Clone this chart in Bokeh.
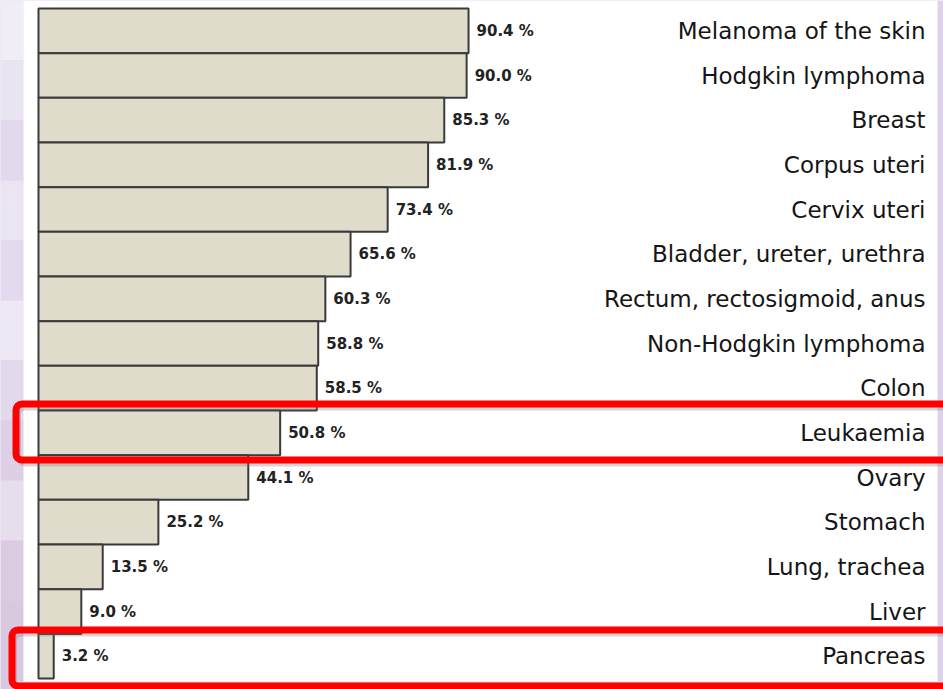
from bokeh.plotting import figure
from bokeh.models import ColumnDataSource, Range1d, BoxAnnotation
from bokeh.core.properties import value
from bokeh.embed import file_html
from bokeh.resources import INLINE

# ---- data ----
categories = ["Melanoma of the skin", "Hodgkin lymphoma", "Breast", "Corpus uteri",
              "Cervix uteri", "Bladder, ureter, urethra", "Rectum, rectosigmoid, anus",
              "Non-Hodgkin lymphoma", "Colon", "Leukaemia", "Ovary", "Stomach",
              "Lung, trachea", "Liver", "Pancreas"]
survival = [90.4, 90.0, 85.3, 81.9, 73.4, 65.6, 60.3, 58.8, 58.5, 50.8, 44.1, 25.2, 13.5, 9.0, 3.2]
highlighted = ["Leukaemia", "Pancreas"]

# ---- layout constants (pixels) ----
W, H = 943, 689
X0 = 38.0            # pixel where 0 % sits
PX_PER_PCT = 4.757   # pixels per percent
ROW_TOP = 8.0        # pixel top of first row
ROW_H = 44.67        # pixel row height

def px_to_x(px):
    return (px - X0) / PX_PER_PCT

def px_to_y(py):
    return (py - ROW_TOP) / ROW_H - 0.5

rows = list(range(len(categories)))
labels = ["%.1f %%" % v for v in survival]

src = ColumnDataSource(dict(y=rows, v=survival, cat=categories, lab=labels,
                            zero=[0] * len(rows),
                            catx=[px_to_x(925)] * len(rows)))

p = figure(width=W, height=H, output_backend="svg", toolbar_location=None,
           x_range=Range1d(px_to_x(0), px_to_x(W)),
           y_range=Range1d(px_to_y(H), px_to_y(0)),
           min_border=0, outline_line_color=None)
p.axis.visible = False
p.grid.visible = False
p.background_fill_color = "#ddd3e8"
p.border_fill_color = "#ddd3e8"

# soft lavender background (left strip), banded to mimic the blurred photo
band_edges = [0, 60, 120, 180, 240, 300, 360, 420, 480, 540, 600, 689]
band_cols = ["#f0edf6", "#e9e4f2", "#e2d9ee", "#ebe5f3", "#e4daef", "#ede8f4",
             "#e3d9ec", "#ddd0e6", "#e6dded", "#dacbe3", "#d8c9e1"]
p.quad(left=[px_to_x(0)] * len(band_cols), right=[px_to_x(23)] * len(band_cols),
       top=[px_to_y(t) for t in band_edges[:-1]],
       bottom=[px_to_y(b) for b in band_edges[1:]],
       fill_color=band_cols, line_color=None)

# white panel
p.quad(left=[px_to_x(23)], right=[px_to_x(937)], top=[px_to_y(0)], bottom=[px_to_y(681)],
       fill_color="white", line_color=None)

# bars
p.hbar(y="y", left="zero", right="v", height=1.0, source=src,
       fill_color="#dfdccb", line_color="#3a3a3a", line_width=2)

# value labels
p.text(x="v", y="y", text="lab", source=src, x_offset=8,
       text_font=value("DejaVu Sans"), text_font_style="bold", text_font_size="15px",
       text_color="#222222", text_baseline="middle", text_align="left")

# category labels
p.text(x="catx", y="y", text="cat", source=src,
       text_font=value("DejaVu Sans"), text_font_size="23px",
       text_color="#151515", text_baseline="middle", text_align="right")

# red highlight boxes
pads = {"Leukaemia": (0.146, 0.108, 15.5), "Pancreas": (0.087, 0.165, 11.5)}
for name in highlighted:
    i = categories.index(name)
    top_pad, bot_pad, left_px = pads[name]
    # subtle shadow
    p.add_layout(BoxAnnotation(left=px_to_x(left_px + 3), right=px_to_x(W + 20),
                               top=i - 0.5 - top_pad + 0.1, bottom=i + 0.5 + bot_pad + 0.1,
                               fill_alpha=0, line_color="#777777", line_alpha=0.3,
                               line_width=4, border_radius=6))
    p.add_layout(BoxAnnotation(left=px_to_x(left_px), right=px_to_x(W + 20),
                               top=i - 0.5 - top_pad, bottom=i + 0.5 + bot_pad,
                               fill_alpha=0, line_color="#ff0000", line_alpha=1.0,
                               line_width=7, border_radius=6))

open("out.html", "w").write(file_html(p, INLINE))
